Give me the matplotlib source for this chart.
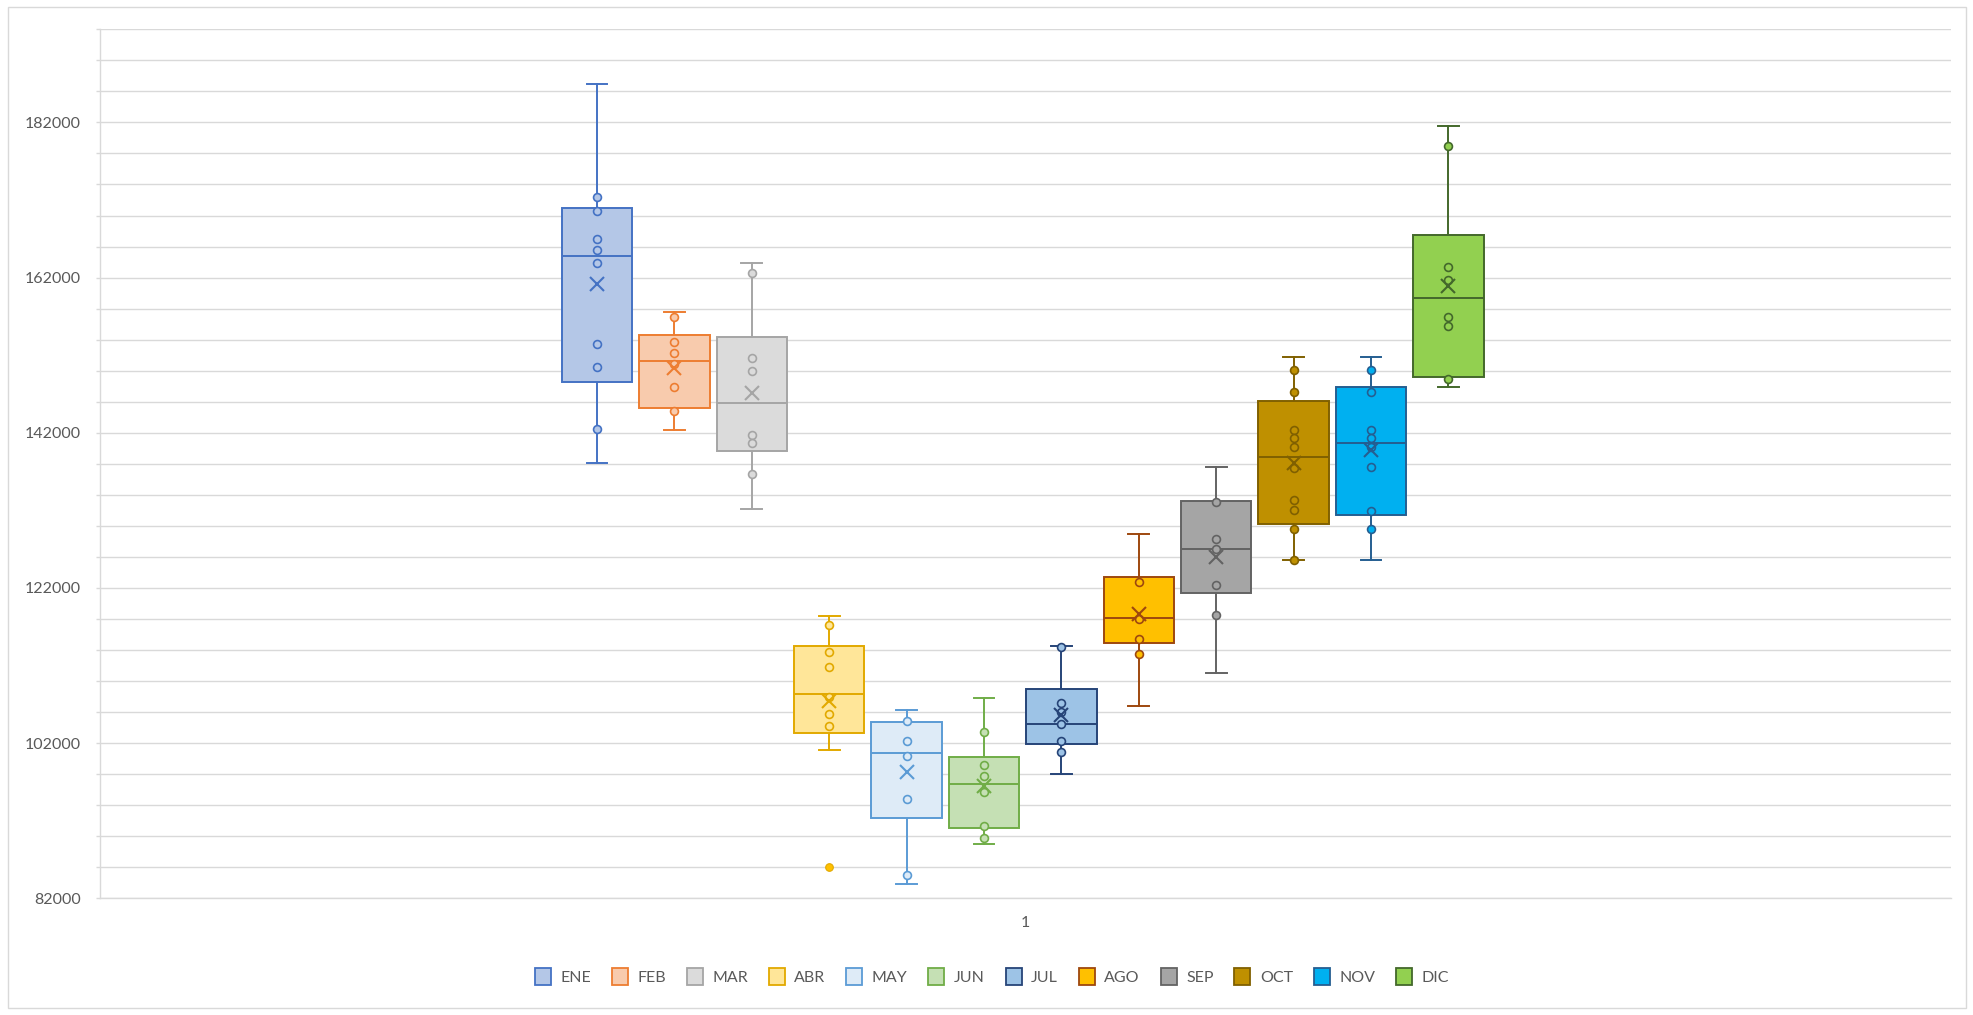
import numpy as np
import matplotlib
matplotlib.use("Agg")
import matplotlib.pyplot as plt
from matplotlib.patches import Patch, Rectangle
from matplotlib.ticker import FixedLocator

plt.rcParams['font.family'] = ['Lato', 'DejaVu Sans']

months = ['ENE', 'FEB', 'MAR', 'ABR', 'MAY', 'JUN', 'JUL', 'AGO', 'SEP', 'OCT', 'NOV', 'DIC']
category_label = '1'

whisker_low = [138084, 142299, 132193, 101051, 83860, 88935, 97996, 106774, 110976, 125581, 125581, 147923]
q1 = [148486, 145174, 139631, 103281, 92368, 91078, 101863, 114843, 121370, 130221, 131424, 149212]
median = [164766, 151231, 145779, 108270, 100746, 96750, 104484, 118105, 126999, 138819, 140705, 159314]
q3 = [170992, 154544, 154368, 114538, 104742, 100149, 108953, 123351, 133186, 146037, 147880, 167516]
whisker_high = [186975, 157590, 163825, 118362, 106207, 107793, 114538, 128893, 137530, 151709, 151709, 181523]
mean = [161118, 150291, 147150, 107449, 98297, 96492, 105601, 118620, 126010, 138045, 139760, 160899]

inner_points = {
    'ENE': [172410, 170567, 166957, 165582, 163864, 153423, 150458, 142505],
    'FEB': [156903, 153723, 152220, 150845, 147923, 144748],
    'MAR': [162536, 151661, 149943, 141693, 140623, 136627],
    'ABR': [117164, 113722, 111750, 107883, 105773, 104184],
    'MAY': [104789, 102250, 100359, 94774, 85020],
    'JUN': [103372, 99156, 97738, 95718, 91336, 89789],
    'JUL': [114400, 107110, 105988, 104403, 102250, 100832],
    'AGO': [122788, 117937, 115398, 113426],
    'SEP': [133018, 128288, 126960, 122320, 118491],
    'OCT': [150072, 147197, 142299, 141268, 140147, 137482, 133315, 131987, 129538, 125581],
    'NOV': [150072, 147197, 142299, 141268, 140108, 137530, 131939, 129538],
    'DIC': [178945, 163391, 161673, 156865, 155743, 148873],
}
outliers = {'ABR': [86051]}

fill_colors = ['#B4C7E7', '#F8CBAD', '#DBDBDB', '#FFE699', '#DEEBF7', '#C5E0B4',
               '#9DC3E6', '#FFC000', '#A5A5A5', '#BF9000', '#00B0F0', '#92D050']
edge_colors = ['#4472C4', '#ED7D31', '#A5A5A5', '#E2A900', '#5B9BD5', '#70AD47',
               '#264478', '#9E480E', '#636363', '#806000', '#255E91', '#43682B']

W, H = 1973, 1015
fig = plt.figure(figsize=(W / 100, H / 100), dpi=100)
ax = fig.add_axes([100 / W, 1 - 898.3 / H, (1951 - 100) / W, (898.3 - 29.3) / H])

positions = np.arange(len(months))
center = (positions[0] + positions[-1]) / 2
stats = []
for i, m in enumerate(months):
    stats.append(dict(label=m, whislo=whisker_low[i], q1=q1[i], med=median[i],
                      q3=q3[i], whishi=whisker_high[i], mean=mean[i], fliers=[]))

art = ax.bxp(stats, positions=positions, widths=0.908, capwidths=0.27,
             showmeans=True, patch_artist=True, showfliers=False, manage_ticks=False)

for i in range(len(months)):
    fc, ec = fill_colors[i], edge_colors[i]
    b = art['boxes'][i]
    b.set_facecolor(fc); b.set_edgecolor(ec); b.set_linewidth(1.4); b.set_zorder(3)
    for ln in art['whiskers'][2 * i:2 * i + 2] + art['caps'][2 * i:2 * i + 2]:
        ln.set_color(ec); ln.set_linewidth(1.4); ln.set_zorder(2.5)
    md = art['medians'][i]
    md.set_color(ec); md.set_linewidth(1.4); md.set_zorder(4)
    mn = art['means'][i]
    mn.set_marker('x'); mn.set_markersize(10.5); mn.set_markeredgewidth(1.5)
    mn.set_markeredgecolor(ec); mn.set_markerfacecolor(ec); mn.set_zorder(6)
    pts = inner_points[months[i]]
    ax.scatter(np.full(len(pts), positions[i]), pts, s=32, facecolor=fc,
               edgecolor=ec, linewidth=1.2, zorder=5)
    if months[i] in outliers:
        o = outliers[months[i]]
        ax.scatter(np.full(len(o), positions[i]), o, s=30, facecolor='#FFC000',
                   edgecolor=ec, linewidth=0.8, zorder=5)

# axes scales
ax.set_ylim(82000, 194000)
xl, xr = center - (1022.7 - 100) / 77.4, center + (1951 - 1022.7) / 77.4
ax.set_xlim(xl, xr)
ax.yaxis.set_major_locator(FixedLocator(np.arange(82000, 194001, 20000)))
ax.yaxis.set_minor_locator(FixedLocator(np.arange(82000, 194001, 4000)))
ax.set_xticks([(xl + xr) / 2])
ax.set_xticklabels([category_label])

grid_c = '#D9D9D9'
ax.grid(True, which='both', axis='y', color=grid_c, linewidth=1.0)
ax.set_axisbelow(True)
for s in ['top', 'right']:
    ax.spines[s].set_visible(False)
for s in ['left', 'bottom']:
    ax.spines[s].set_color(grid_c)
    ax.spines[s].set_linewidth(1.0)

ax.tick_params(axis='y', which='both', length=3, color=grid_c, width=1.0,
               labelsize=11.5, labelcolor='#595959', pad=11)
ax.tick_params(axis='x', length=0, labelsize=11.5, labelcolor='#595959', pad=13)

handles = [Patch(facecolor=fill_colors[i], edgecolor=edge_colors[i], linewidth=1.3, label=m)
           for i, m in enumerate(months)]
leg = fig.legend(handles=handles, loc='center', bbox_to_anchor=(992 / W, 1 - 976.5 / H),
                 ncol=12, frameon=False, fontsize=11.5, handlelength=1.0, handleheight=1.25,
                 handletextpad=0.6, columnspacing=1.3)
for t in leg.get_texts():
    t.set_color('#595959')

fig.patches.append(Rectangle((7.5 / W, 1 - 1008 / H), (1966 - 7.5) / W, (1008 - 7) / H,
                             transform=fig.transFigure, fill=False, edgecolor=grid_c,
                             linewidth=1.0))

fig.savefig('out.png', dpi=100, facecolor='white')
